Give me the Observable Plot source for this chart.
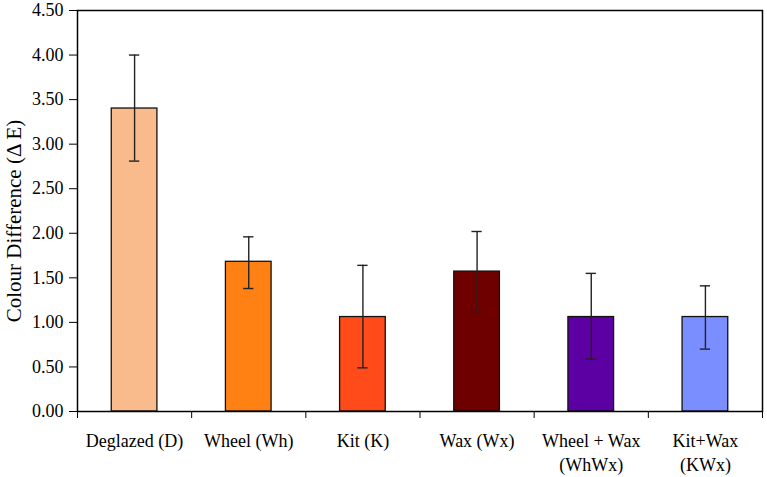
<!DOCTYPE html>
<html>
<head>
<meta charset="utf-8">
<script src="https://cdn.jsdelivr.net/npm/d3@7"></script>
<script src="https://cdn.jsdelivr.net/npm/@observablehq/plot@0.6"></script>
<style>
  body { margin: 0; background: #fff; }
  #plot svg, #plot svg text { font-family: "Liberation Serif", "Times New Roman", serif !important; }
</style>
</head>
<body>
<div id="plot"></div>
<script>
// treatments and their colour difference (mean and error bar ends)
const categories = ["Deglazed (D)", "Wheel (Wh)", "Kit (K)", "Wax (Wx)", "Wheel + Wax\n(WhWx)", "Kit+Wax\n(KWx)"];
const means = [3.40, 1.68, 1.06, 1.57, 1.06, 1.06];
const errLow = [2.81, 1.38, 0.49, 1.12, 0.59, 0.70];
const errHigh = [4.00, 1.96, 1.64, 2.02, 1.55, 1.41];
const palette = ["#F9BB8C", "#FF8114", "#FF4A1A", "#6E0000", "#5C00A3", "#7B8EFF"];
const yTicks = [0, 0.5, 1, 1.5, 2, 2.5, 3, 3.5, 4, 4.5];

const serif = "Liberation Serif";

const rows = categories.map((c, i) => ({
  cat: c,
  pos: i + 0.5,
  mean: means[i],
  lo: errLow[i],
  hi: errHigh[i]
}));

const half = 0.2;   // half bar width, in category units
const cap = 0.045;  // half cap width

const plot = Plot.plot({
  width: 767,
  height: 477,
  marginLeft: 77,
  marginRight: 5,
  marginTop: 10,
  marginBottom: 66,
  style: {
    background: "#fff",
    color: "#000",
    fontFamily: serif,
    fontSize: "17px"
  },
  x: { domain: [0, categories.length], axis: null },
  y: { domain: [0, 4.5], axis: null },
  color: { domain: categories, range: palette },
  marks: [
    Plot.rectY(rows, {
      x1: d => d.pos - half,
      x2: d => d.pos + half,
      y1: 0,
      y2: "mean",
      fill: "cat",
      stroke: "#111",
      strokeWidth: 1.3
    }),
    Plot.ruleX(rows, { x: "pos", y1: "lo", y2: "hi", stroke: "#222", strokeWidth: 1.4 }),
    Plot.ruleY(rows, { y: "hi", x1: d => d.pos - cap, x2: d => d.pos + cap, stroke: "#222", strokeWidth: 1.4 }),
    Plot.ruleY(rows, { y: "lo", x1: d => d.pos - cap, x2: d => d.pos + cap, stroke: "#222", strokeWidth: 1.4 }),
    Plot.axisY({
      ticks: yTicks,
      tickFormat: d3.format(".2f"),
      tickSize: 8,
      tickPadding: 6,
      label: null,
      fontSize: 18,
      fontFamily: serif
    }),
    Plot.axisX({
      ticks: d3.range(0, categories.length + 1),
      tickSize: 7,
      tickFormat: () => "",
      label: null
    }),
    Plot.text(rows, {
      x: "pos",
      y: 0,
      text: "cat",
      lineAnchor: "top",
      lineHeight: 1.3,
      dy: 19,
      fontSize: 18,
      fontFamily: serif
    }),
    Plot.text(["Colour Difference (\u0394 E)"], {
      frameAnchor: "left",
      textAnchor: "middle",
      lineAnchor: "middle",
      rotate: -90,
      dx: -63,
      dy: 10,
      fontSize: 21,
      fontFamily: serif
    }),
    Plot.frame({ stroke: "#000", strokeWidth: 1.5 })
  ]
});

document.getElementById("plot").appendChild(plot);
</script>
</body>
</html>
